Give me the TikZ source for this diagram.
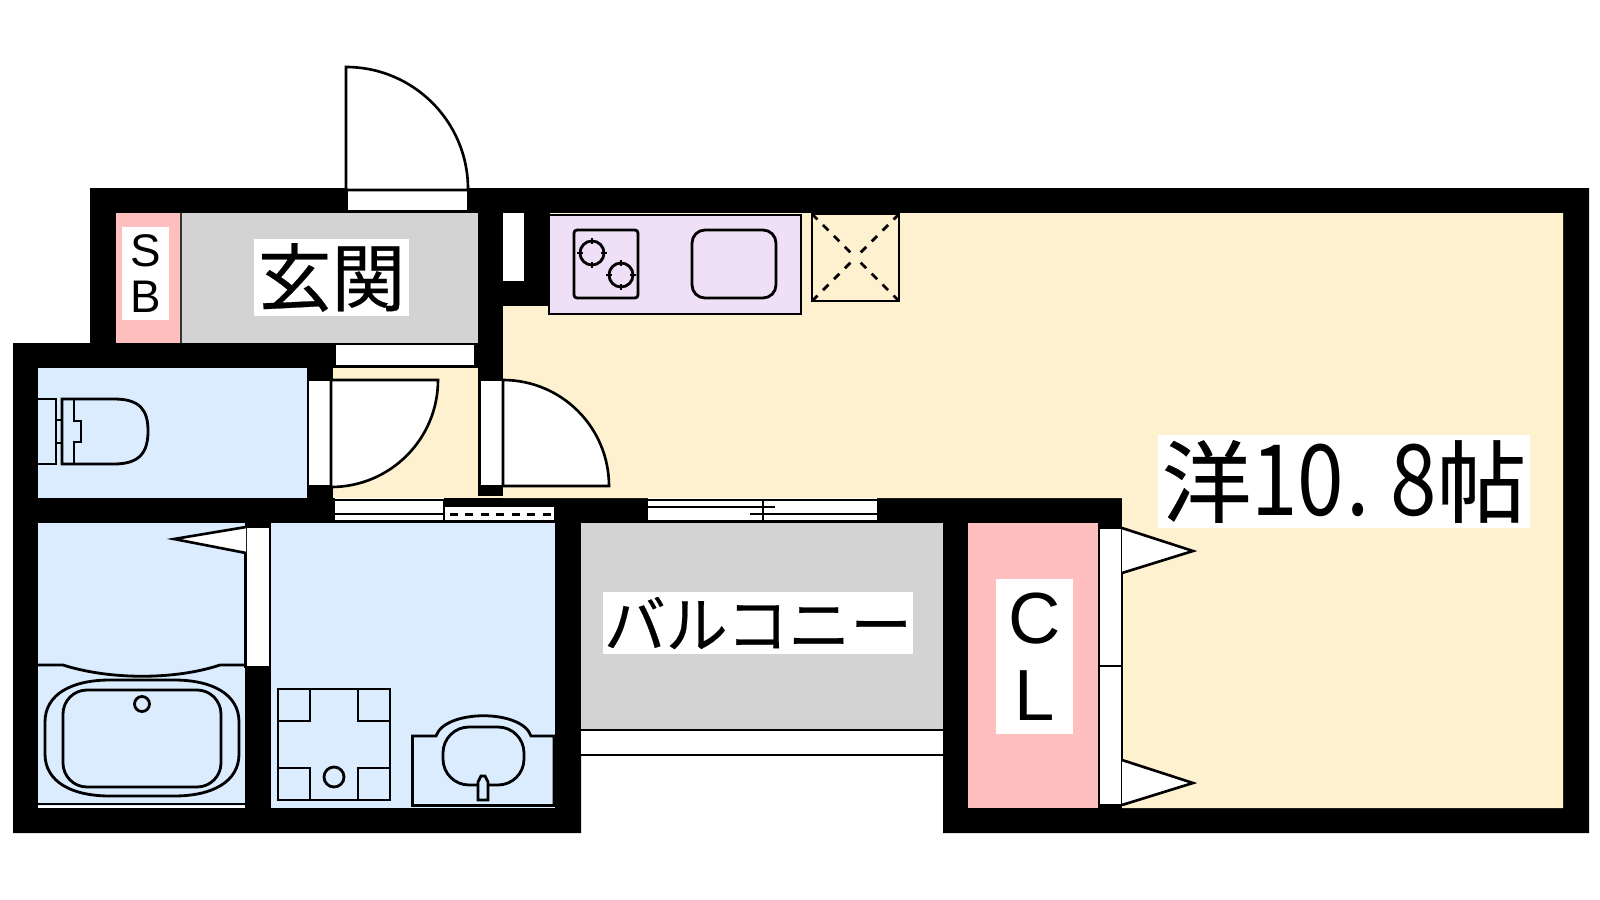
\documentclass[tikz,border=0pt]{standalone}
\usepackage{fontspec}
\setmainfont{Liberation Sans}
\newfontfamily\jpfont[FakeBold=0.35]{Noto Sans CJK JP}
\newfontfamily\jpdigits[FakeStretch=0.85]{Noto Sans CJK JP}
\newcommand{\halfw}[1]{\makebox[0.47em][c]{#1}}
\definecolor{floorcream}{HTML}{FEF1D0}
\definecolor{floorblue}{HTML}{DBECFF}
\definecolor{floorgrey}{HTML}{D3D3D3}
\definecolor{storepink}{HTML}{FFBFBF}
\definecolor{kitchenlav}{HTML}{EFDFF7}
\tikzset{
    wall/.style={fill=black},
    sash/.style={draw=black,fill=white,line width=0.75pt},
    fixture/.style={draw=black,line width=0.8pt},
    thinline/.style={line width=0.7pt},
    roomtag/.style={fill=white,inner sep=0pt,align=center},
}

\begin{document}
\begin{tikzpicture}[x=0.01cm,y=-0.01cm]
        \useasboundingbox[fill=white] (0,0) rectangle (1600,900);
        \fill[wall] (90,188) -- (1589,188) -- (1589,833) -- (943,833) -- (943,523) -- (581,523) -- (581,833) -- (13,833) -- (13,343) -- (90,343) -- cycle;
        \fill[floorcream] (503,306) -- (550,306) -- (550,213) -- (1563,213) -- (1563,808) -- (1122,808) -- (1122,498) -- (503,498) -- cycle;
        \fill[floorcream] (333,368) rectangle (478,498);
        \fill[floorcream] (478,496) rectangle (503,498);
        \fill[floorgrey] (180,213) rectangle (478,343);
        \fill[storepink] (116,213) rectangle (180,343);
        \draw[thinline,black!80] (181,213) -- (181,343);
        \fill[floorblue] (38,368) rectangle (307,498);
        \fill[floorblue] (38,523) rectangle (245,808);
        \fill[floorblue] (271,523) rectangle (555,808);
        \fill[floorgrey] (581,523) rectangle (943,730);
        \fill[storepink] (968,523) rectangle (1098,808);

        \fill[white] (503,213) rectangle (524,281);
        \draw[sash] (347,190) rectangle (468,211);
        \draw[sash] (335,344) rectangle (475,366);
        \draw[sash] (308,380) rectangle (331,486);
        \draw[sash] (480,380) rectangle (503,486);
        \draw[sash] (245.5,527) rectangle (270,667);
        \draw[sash] (1099,528) rectangle (1122,666);
        \draw[sash] (1099,666) rectangle (1122,805);
        \draw[sash] (346,190) -- (346,67) arc[start angle=-90,end angle=0,radius=122] -- (468,190) -- cycle;
        \draw[sash] (331,380) -- (438,380) arc[start angle=0,end angle=90,radius=107] -- cycle;
        \draw[sash] (503,380) arc[start angle=-90,end angle=0,radius=106] -- (503,486) -- cycle;
        \draw[sash] (246,527) -- (174,539) -- (246,553);
        \draw[sash] (1122,528) -- (1193,551) -- (1122,573);
        \draw[sash] (1122,760) -- (1193,783) -- (1122,805);

        \fill[white] (335,498) rectangle (444,521);
        \fill[white] (444,507) rectangle (554,521);
        \fill[white] (648,498) rectangle (877,521);
        \draw[thinline] (335,500) -- (444,500);
        \draw[thinline] (335,514) -- (444,514);
        \draw[thinline] (335,521) -- (554,521);
        \draw[thinline] (444,499) -- (444,522);
        \draw[thinline,dash pattern=on 2.2pt off 2.2pt] (450,514.5) -- (554,514.5);
        \draw[thinline] (648,500) -- (877,500);
        \draw[thinline] (648,507) -- (775,507);
        \draw[thinline] (750,514) -- (877,514);
        \draw[thinline] (648,521) -- (877,521);
        \draw[thinline] (763,499) -- (763,522);
        \fill[white] (581,730) rectangle (943,755);
        \draw[thinline] (581,730) -- (943,730);
        \draw[thinline] (581,755) -- (943,755);

        \draw[fixture] (38,399) -- (56,399) -- (56,464) -- (38,464);
        \draw[fixture] (56,420) -- (62,420);
        \draw[fixture] (56,443) -- (62,443);
        \draw[fixture] (62,399) -- (114,399) .. controls (140,399) and (148,410) .. (148,431) .. controls (148,452) and (140,464) .. (114,464) -- (62,464) -- cycle;
        \draw[fixture] (74,399) -- (74,421) -- (81,421) -- (81,442) -- (74,442) -- (74,464);

        \draw[fixture] (38,665) -- (63,665) .. controls (110,680) and (175,680) .. (220,665) -- (245,665);
        \draw[fixture] (45,722) .. controls (45,694) and (72,680) .. (110,680) -- (174,680) .. controls (212,680) and (239,694) .. (239,722) -- (239,754) .. controls (239,782) and (212,796) .. (174,796) -- (110,796) .. controls (72,796) and (45,782) .. (45,754) -- cycle;
        \draw[fixture,rounded corners=0.24cm] (63,690) rectangle (221,787);
        \draw[fixture] (142,704) circle[radius=7.5];
        \draw[thinline] (38,804) -- (245,804);
        \draw[white,line width=0.5pt] (38,807) -- (245,807);

        \draw[fixture] (278,689) rectangle (390,800);
        \foreach \cx/\cy in {278/689,358/689,278/768,358/768}
            \draw[fixture] (\cx,\cy) rectangle ++(32,32);
        \draw[fixture] (334,777) circle[radius=10];
        \draw[fixture] (412.5,805.5) -- (412.5,736) -- (436,736) .. controls (445,709) and (522,709) .. (531,736) -- (554,736) -- (554,805.5) -- cycle;
        \draw[fixture,rounded corners=0.26cm] (443,727) rectangle (524,785);
        \draw[fixture,fill=floorblue] (478,800) -- (478,782) -- (481,776) -- (485,776) -- (488,782) -- (488,800) -- cycle;

        \draw[fixture,fill=kitchenlav] (549,215) rectangle (801,314);
        \draw[fixture,rounded corners=0.03cm] (574,230) rectangle (638,298);
        \foreach \bx/\by in {592/253,621/275} {
            \draw[fixture] (\bx,\by) circle[radius=12];
            \draw[fixture] (\bx,\by-15) -- (\bx,\by-9);
            \draw[fixture] (\bx,\by+9) -- (\bx,\by+15);
            \draw[fixture] (\bx-15,\by) -- (\bx-9,\by);
            \draw[fixture] (\bx+9,\by) -- (\bx+15,\by);
        }
        \draw[fixture,rounded corners=0.13cm] (692,230) rectangle (776,298);
        \draw[fixture] (812,214) rectangle (899,301);
        \foreach \sx/\sy in {812/214,899/214,812/301,899/301}
            \draw[line width=0.8pt,dash pattern=on 2.2pt off 2.2pt] (\sx,\sy) -- (855.5,257.5);

        \node[roomtag,minimum width=1.55cm,minimum height=0.77cm,font=\jpfont\fontsize{21}{21}\selectfont] (entrytag) at (331.5,277.5) {玄関};
        \node[roomtag,minimum width=0.47cm,minimum height=0.93cm,font=\fontsize{13}{13}\selectfont] (sbtag) at (145.5,273.5) {S\\B};
        \node[roomtag,minimum width=3.72cm,minimum height=0.93cm,font=\jpfont\fontsize{25.5}{25.5}\selectfont] (roomtag) at (1344,481.5) {洋{\jpdigits\fontsize{28}{28}\selectfont\halfw{1}\halfw{0}\halfw{.\hspace{0.18em}}\halfw{8}}帖};
        \node[roomtag,minimum width=3.1cm,minimum height=0.62cm,font=\jpfont\fontsize{17.6}{17.6}\selectfont] (balconytag) at (758,623) {バルコニー};
        \node[roomtag,minimum width=0.77cm,minimum height=1.55cm,font=\fontsize{20.6}{22}\selectfont] (cltag) at (1034.5,656.5) {C\\L};
    \end{tikzpicture}
\end{document}
